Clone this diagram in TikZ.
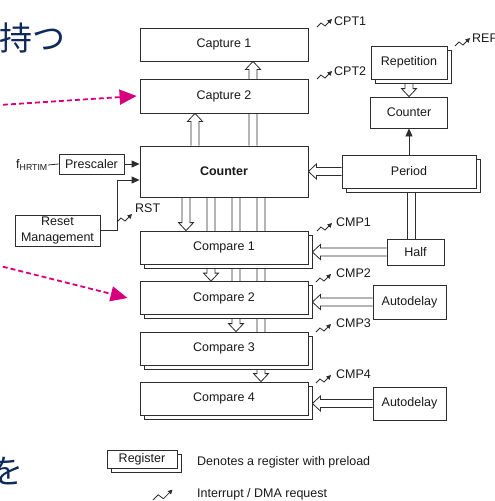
\documentclass[tikz,border=0pt]{standalone}
\usepackage{fontspec}
\setmainfont{Liberation Sans}
\newfontfamily\jpfont{Noto Sans CJK JP}
\usetikzlibrary{calc,shadows,arrows.meta,backgrounds}
\definecolor{stpink}{RGB}{214,0,126}
\definecolor{stnavy}{RGB}{14,42,90}
\definecolor{boxline}{RGB}{45,45,45}
\definecolor{boxtext}{RGB}{25,25,25}

\tikzset{
  box/.style={draw=boxline, fill=white, line width=0.8pt, inner sep=0pt, text=boxtext,
    font=\fontsize{12.5}{16}\selectfont, align=center},
  preload/.style={box, copy shadow={shadow xshift=4pt, shadow yshift=-4pt, draw=boxline, fill=white, line width=0.8pt}},
  lbl/.style={inner sep=0pt, text=boxtext, font=\fontsize{12.5}{15}\selectfont},
  jp/.style={inner sep=0pt, text=stnavy, font=\jpfont\fontsize{33}{40}\selectfont},
  sig/.style={draw=boxline, line width=0.8pt, -{Triangle[length=8pt,width=7pt]}},
  wire/.style={draw=boxline, line width=0.8pt},
  bus/.style={draw=boxline, line width=0.8pt, to path={
    ([xshift=-4pt]\tikztostart) -- ([xshift=-4pt]\tikztotarget)
    ([xshift=4pt]\tikztostart) -- ([xshift=4pt]\tikztotarget)}},
  pointer/.style={draw=stpink, line width=1.8pt, dash pattern=on 5pt off 3pt, -{Triangle[length=17pt,width=15pt]}},
  hollow/.style={draw=boxline, fill=white, line width=0.8pt, to path={
    ($(\tikztostart)!4pt!90:(\tikztotarget)$)
    -- ($(\tikztotarget)!8pt!(\tikztostart)!4pt!90:(\tikztotarget)$)
    -- ($(\tikztotarget)!8pt!(\tikztostart)!7.5pt!90:(\tikztotarget)$)
    -- (\tikztotarget)
    -- ($(\tikztotarget)!8pt!(\tikztostart)!7.5pt!-90:(\tikztotarget)$)
    -- ($(\tikztotarget)!8pt!(\tikztostart)!4pt!-90:(\tikztotarget)$)
    -- ($(\tikztostart)!4pt!-90:(\tikztotarget)$)}},
  irq/.pic={\draw[draw=boxline, line width=0.8pt, -{Triangle[length=4.5pt,width=4.5pt]}]
    (0,0) -- (4,-4) -- (8,-1) -- (15,-8);},
}

\begin{document}
\begin{tikzpicture}[x=1pt, y=-1pt]

    \useasboundingbox (0,0) rectangle (495,501);
    \clip (0,0) rectangle (495,501);

    % slide text
    \node[jp, anchor=base west] (jpmotsu) at (-1,50) {持つ};
    \node[jp, anchor=base west] (jpwo) at (-10,483) {を};

    % capture units
    \node[box, minimum width=168, minimum height=33] (cpt1) at (224,44.5) {Capture 1};
    \node[box, minimum width=168, minimum height=34] (cpt2) at (224,96) {Capture 2};

    % timer counter
    \node[box, minimum width=168, minimum height=51, font=\fontsize{12.5}{16}\selectfont\bfseries] (cnt) at (224,171.5) {Counter};

    % compare units
    \node[preload, minimum width=168, minimum height=33] (cmp1) at (224,247.5) {Compare 1};
    \node[preload, minimum width=168, minimum height=33] (cmp2) at (224,298) {Compare 2};
    \node[preload, minimum width=168, minimum height=33] (cmp3) at (224,348.5) {Compare 3};
    \node[preload, minimum width=168, minimum height=33] (cmp4) at (224,398.5) {Compare 4};

    % period side
    \node[preload, minimum width=76, minimum height=33] (rep) at (409,62.5) {Repetition};
    \node[box, minimum width=77, minimum height=31] (rcnt) at (409,112.5) {Counter};
    \node[preload, minimum width=134, minimum height=33] (per) at (409,171.5) {Period};
    \node[box, minimum width=57, minimum height=26] (half) at (415.5,252) {Half};
    \node[box, minimum width=73, minimum height=34] (ad1) at (409.5,302) {Autodelay};
    \node[box, minimum width=73, minimum height=33] (ad2) at (409.5,403.5) {Autodelay};

    % clock and reset
    \node[lbl] (fclk) at (32,165) {f\textsubscript{HRTIM}};
    \node[box, minimum width=65, minimum height=20] (pre) at (91.5,164) {Prescaler};
    \node[box, minimum width=85, minimum height=31] (rstm) at (57.5,230.5) {Reset\\Management};
    \coordinate (rstin) at ([yshift=-8.5pt]cnt.west);

    \begin{scope}[on background layer]
        % data paths
        \draw[hollow] ([xshift=-29pt]cnt.north) to ([xshift=-29pt]cpt2.south);
        \draw[hollow] ([xshift=29pt]cnt.north) to ([xshift=29pt]cpt1.south);
        \draw[hollow] ([xshift=-38pt]cnt.south) to ([xshift=-38pt]cmp1.north);
        \draw[hollow] ([xshift=-13pt]cnt.south) to ([xshift=-13pt]cmp2.north);
        \draw[hollow] ([xshift=12pt]cnt.south) to ([xshift=12pt]cmp3.north);
        \draw[hollow] ([xshift=37pt]cnt.south) to ([xshift=37pt]cmp4.north);

        \draw[hollow] (rep.south) to (rcnt.north);
        \draw[hollow] (per.west) to (cnt.east);
        \draw[hollow] (half.west) to ([xshift=4pt]half.west -| cmp1.east);
        \draw[hollow] (ad1.west) to ([xshift=4pt]ad1.west -| cmp2.east);
        \draw[hollow] (ad2.west) to ([xshift=4pt]ad2.west -| cmp4.east);
        \draw[bus] ([xshift=-4.5pt]half.north) to ([xshift=-4.5pt]half.north |- per.south);
        \draw[sig] (per.north) -- (rcnt.south);

        \draw[wire] (fclk.east) -- (pre.west);
        \draw[sig] (pre.east) -- (pre.east -| cnt.west);
        \draw[sig] (rstm.east) -- ++(17,0) |- (rstin);
    \end{scope}

    % interrupt / DMA requests
    \pic at (317,27) {irq};
    \node[lbl, anchor=west] (cpt1irq) at (334,21) {CPT1};
    \pic at (317,79) {irq};
    \node[lbl, anchor=west] (cpt2irq) at (334,71) {CPT2};
    \pic at (455,46) {irq};
    \node[lbl, anchor=west] (repirq) at (472,38) {REP};
    \pic at (117,222) {irq};
    \node[lbl, anchor=west] (rstirq) at (135,208) {RST};
    \pic at (317,231) {irq};
    \node[lbl, anchor=west] (cmp1irq) at (336,222) {CMP1};
    \pic at (316,282) {irq};
    \node[lbl, anchor=west] (cmp2irq) at (336,273) {CMP2};
    \pic at (316,332) {irq};
    \node[lbl, anchor=west] (cmp3irq) at (336,323) {CMP3};
    \pic at (316,383) {irq};
    \node[lbl, anchor=west] (cmp4irq) at (336,374) {CMP4};

    % legend
    \node[preload, minimum width=70, minimum height=18] (legreg) at (142,459) {Register};
    \node[lbl, anchor=west] (legregtxt) at (197,462) {Denotes a register with preload};
    \pic[scale=1.3] at (153,500) {irq};
    \node[lbl, anchor=west] (legirqtxt) at (197,494) {Interrupt / DMA request};

    % slide pointers
    \coordinate (ptra) at (-5,105.3);
    \coordinate (ptrb) at (-5,264.7);
    \draw[pointer] (ptra) -- ([xshift=-3pt]cpt2.west);
    \draw[pointer] (ptrb) -- ([xshift=-12pt]cmp2.west);

\end{tikzpicture}
\end{document}
